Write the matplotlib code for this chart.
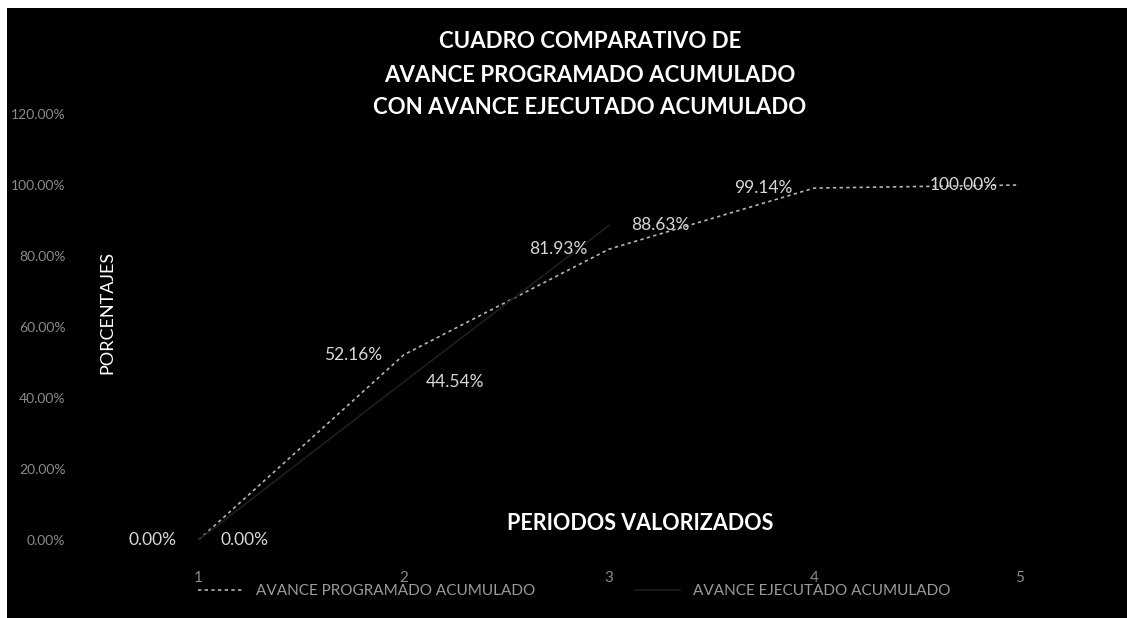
import matplotlib
matplotlib.use("Agg")
import matplotlib.pyplot as plt
from matplotlib.patches import Rectangle

periods = [1, 2, 3, 4, 5]
tick_labels = ["1", "2", "3", "4", "5"]
programado = [0.0, 52.16, 81.93, 99.14, 100.00]
ejecutado = [0.0, 44.54, 88.63]
y_ticks = [0, 20, 40, 60, 80, 100, 120]

title_lines = ["CUADRO COMPARATIVO DE",
               "AVANCE PROGRAMADO ACUMULADO",
               "CON AVANCE EJECUTADO ACUMULADO"]

W, H = 1127, 618
fig = plt.figure(figsize=(W / 100, H / 100), dpi=100)
fig.patch.set_facecolor("black")

# white scan borders (top and left)
fig.patches.append(Rectangle((0, 1 - 8 / H), 1, 8 / H, transform=fig.transFigure,
                             facecolor="white", edgecolor="none", zorder=0))
fig.patches.append(Rectangle((0, 0), 7 / W, 1, transform=fig.transFigure,
                             facecolor="white", edgecolor="none", zorder=0))

ax = fig.add_axes([96 / W, (H - 540) / H, (1122 - 96) / W, (540 - 114) / H])
ax.set_facecolor("black")

ax.plot(periods, programado, color="#b5b5b5", lw=1.2, ls=(0, (2, 2)),
        label="AVANCE PROGRAMADO ACUMULADO")
ax.plot(periods[:len(ejecutado)], ejecutado, color="#1e1e1e", lw=1.2,
        label="AVANCE EJECUTADO ACUMULADO")

lab_font = dict(fontsize=12.5, color="#d8d8d8", family=["Lato", "DejaVu Sans"], va="center")
for x, v in zip(periods, programado):
    ax.annotate(f"{v:.2f}%", (x, v), xytext=(-22, 0), textcoords="offset pixels",
                ha="right", **lab_font)
for x, v in zip(periods, ejecutado):
    ax.annotate(f"{v:.2f}%", (x, v), xytext=(22, 0), textcoords="offset pixels",
                ha="left", **lab_font)

ax.set_xlim(0.5, 5.5)
ax.set_ylim(0, 120)
ax.set_xticks(periods)
ax.set_xticklabels(tick_labels)
ax.set_yticks(y_ticks)
ax.set_yticklabels([f"{t:.2f}%" for t in y_ticks])
ax.tick_params(axis="both", length=0, colors="#8a8a8a", labelsize=10)
ax.tick_params(axis="x", pad=22, labelsize=11)
ax.tick_params(axis="y", pad=22)
for lbl in ax.get_xticklabels() + ax.get_yticklabels():
    lbl.set_family(["Lato", "DejaVu Sans"])
for s in ax.spines.values():
    s.set_visible(False)

# title
for i, line in enumerate(title_lines):
    fig.text(590 / W, 1 - (42 + 33 * i) / H, line, ha="center", va="center",
             fontsize=16, color="white", fontweight="bold",
             family=["Lato", "DejaVu Sans"])

fig.text(107 / W, 1 - 312 / H, "PORCENTAJES", rotation=90, ha="center", va="center",
         fontsize=13, color="white", family=["Lato", "DejaVu Sans"])
fig.text(640 / W, 1 - 523 / H, "PERIODOS VALORIZADOS", ha="center", va="center",
         fontsize=15.5, color="white", fontweight="bold", family=["Lato", "DejaVu Sans"])

leg = fig.legend(loc="center", bbox_to_anchor=(574 / W, 1 - 591 / H), ncol=2,
                 frameon=False, labelcolor="#9a9a9a",
                 handlelength=3, columnspacing=6.5,
                 prop={"family": ["Lato", "DejaVu Sans"], "size": 11})

fig.savefig("out.png", dpi=100, facecolor=fig.get_facecolor())
